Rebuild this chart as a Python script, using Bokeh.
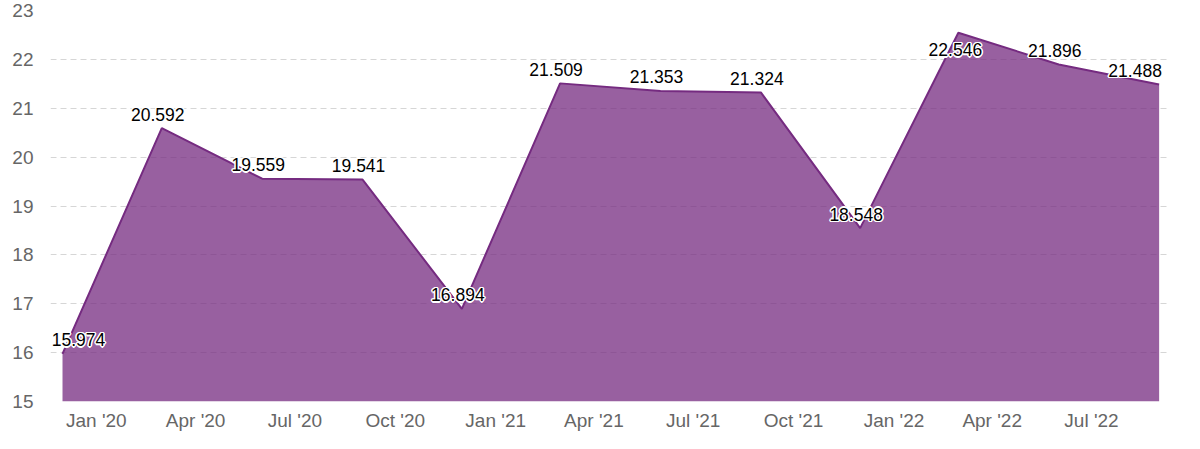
from datetime import datetime, timedelta
from bokeh.plotting import figure
from bokeh.models import ColumnDataSource, Range1d, DatetimeTickFormatter, MonthsTicker, SingleIntervalTicker
from bokeh.core.properties import value
from bokeh.embed import file_html
from bokeh.resources import INLINE

# ---- data ----
dates = ["2019-12-01", "2020-03-01", "2020-06-01", "2020-09-01", "2020-12-01", "2021-03-01",
         "2021-06-01", "2021-09-01", "2021-12-01", "2022-03-01", "2022-06-01", "2022-09-01"]
values = [15.974, 20.592, 19.559, 19.541, 16.894, 21.509,
          21.353, 21.324, 18.548, 22.546, 21.896, 21.488]
labels = ["15.974", "20.592", "19.559", "19.541", "16.894", "21.509",
          "21.353", "21.324", "18.548", "22.546", "21.896", "21.488"]

# ---- styling (label placement, screen pixels) ----
label_dx = [16, -4, -4, -4, -4, -4, -4, -4, -4, -3, -4, -24]
label_dy = [-14, -14, -14, -14, -14, -14, -14, -14, -14, 17, -14, -14]

xs = [datetime.strptime(d, "%Y-%m-%d") for d in dates]
base = 15
src = ColumnDataSource(dict(x=xs, y=values, t=labels, dx=label_dx, dy=label_dy))

p = figure(width=1184, height=433, x_axis_type="datetime", output_backend="svg",
           toolbar_location=None, min_border_left=50, min_border_right=15,
           min_border_top=10, min_border_bottom=31)
p.x_range = Range1d(xs[0] - timedelta(days=11), xs[-1] + timedelta(days=9.5))
p.y_range = Range1d(15, 23)
p.outline_line_color = None
p.background_fill_color = "white"

p.varea(x="x", y1=base, y2="y", source=src, fill_color="#752b80", fill_alpha=0.75)
p.line(x="x", y="y", source=src, line_color="#752b80", line_width=2)

font = value("Liberation Sans")
halo = [(-1, 0), (1, 0), (0, -1), (0, 1), (-1, -1), (1, 1), (-1, 1), (1, -1),
        (-1.5, 0), (1.5, 0), (0, -1.5), (0, 1.5)]
for i, (ox, oy) in enumerate(halo):
    src.data[f"hx{i}"] = [d + ox for d in label_dx]
    src.data[f"hy{i}"] = [d + oy for d in label_dy]
    p.text(x="x", y="y", text="t", source=src, text_font=font, text_font_size="17.5px",
           text_color="white", text_align="center", text_baseline="alphabetic",
           x_offset=f"hx{i}", y_offset=f"hy{i}")
p.text(x="x", y="y", text="t", source=src, text_font=font, text_font_size="17.5px",
       text_color="black", text_align="center", text_baseline="alphabetic",
       x_offset="dx", y_offset="dy")

p.xaxis.ticker = MonthsTicker(months=[0, 3, 6, 9])
p.xaxis.formatter = DatetimeTickFormatter(months="%b '%y", days="%b '%y", years="%b '%y")
p.yaxis.ticker = SingleIntervalTicker(interval=1)
for ax in (p.xaxis, p.yaxis):
    ax.axis_line_color = None
    ax.major_tick_line_color = None
    ax.minor_tick_line_color = None
    ax.major_label_text_font = "Liberation Sans"
    ax.major_label_text_font_size = "19px"
    ax.major_label_text_color = "#666666"
p.yaxis.major_label_standoff = 11
p.xaxis.major_label_standoff = 2

p.xgrid.grid_line_color = None
p.ygrid.ticker = SingleIntervalTicker(interval=1)
p.ygrid.grid_line_color = "#d6d6d6"
p.ygrid.grid_line_dash = "6 4"
p.ygrid.grid_line_width = 1

open("out.html", "w").write(file_html(p, INLINE))
